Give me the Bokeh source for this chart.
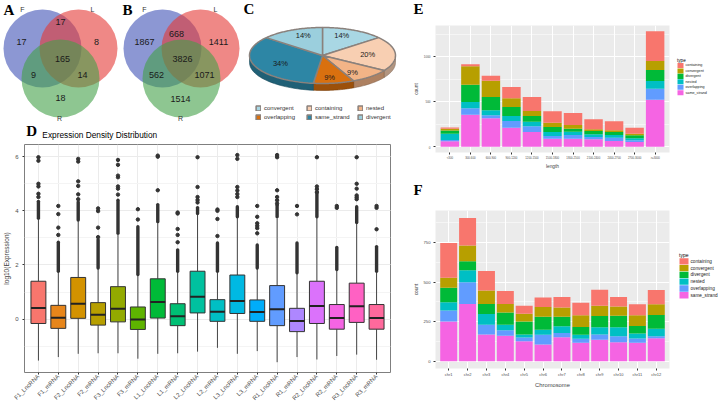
import numpy as np
from bokeh.plotting import figure
from bokeh.layouts import row, column
from bokeh.models import (Range1d, FactorRange, Legend, LegendItem,
                          ColumnDataSource, SingleIntervalTicker)
from bokeh.embed import file_html
from bokeh.resources import INLINE
from bokeh.core.properties import value

SANS = "Liberation Sans"
SERIF = "Liberation Serif"

# ---------------- data ----------------
venn_set_names = ["F", "L", "R"]
venn_regions = ["F_only", "F_L", "L_only", "F_L_R", "F_R", "L_R", "R_only"]
venn_a_counts = [17, 17, 8, 165, 9, 14, 18]
venn_b_counts = [1867, 668, 1411, 3826, 562, 1071, 1514]

pie_types = ["convergent", "containing", "nested", "overlapping", "same_strand", "divergent"]
pie_percent = [14, 20, 9, 9, 34, 14]

box_title = "Expression Density Distribution"
box_groups = ["F1_LncRNA", "F1_mRNA", "F2_LncRNA", "F2_mRNA", "F3_LncRNA", "F3_mRNA",
              "L1_LncRNA", "L1_mRNA", "L2_LncRNA", "L2_mRNA", "L3_LncRNA", "L3_mRNA",
              "R1_LncRNA", "R1_mRNA", "R2_LncRNA", "R2_mRNA", "R3_LncRNA", "R3_mRNA"]
box_whisker_lo = [-1.53, -1.40, -1.28, -1.26, -1.26, -1.46, -1.28, -1.26, -1.20, -1.06,
                  -1.28, -1.18, -1.59, -1.40, -1.49, -1.36, -1.31, -1.50]
box_q1 = [-0.16, -0.34, 0.03, -0.22, -0.10, -0.38, 0.04, -0.24, 0.23, -0.08,
          0.21, -0.08, -0.24, -0.46, -0.16, -0.37, -0.12, -0.37]
box_median = [0.41, 0.05, 0.57, 0.16, 0.38, -0.01, 0.63, 0.11, 0.83, 0.27,
              0.67, 0.26, 0.37, -0.07, 0.49, 0.04, 0.48, 0.04]
box_q3 = [1.40, 0.51, 1.54, 0.61, 1.20, 0.45, 1.49, 0.57, 1.77, 0.72,
          1.63, 0.71, 1.24, 0.40, 1.40, 0.54, 1.33, 0.54]
box_whisker_hi = [3.70, 1.75, 3.62, 1.86, 3.12, 1.62, 3.56, 1.74, 3.88, 1.74,
                  3.74, 1.86, 3.72, 1.68, 3.74, 1.80, 3.54, 1.74]
# dense runs of outliers (drawn as a solid run of dots)
box_dense_lo = [3.73, 1.77, 3.66, 1.89, 3.17, 1.65, 3.60, 1.77, 3.90, 1.77,
                3.78, 1.89, 3.78, 1.71, 3.78, 1.83, 3.57, 1.77]
box_dense_hi = [4.35, 2.84, 4.33, 2.93, 4.39, 3.41, 4.23, 2.56, 4.12, 2.81,
                4.15, 2.74, 4.21, 2.81, 4.63, 2.65, 4.15, 2.68]
box_outliers = [
    [4.51, 4.63, 4.90, 5.00, 5.85, 5.98],
    [3.11, 3.38, 3.88, 4.18],
    [4.43, 4.61, 4.92, 5.09, 5.82, 5.92],
    [3.03, 3.38, 3.99, 4.09],
    [4.60, 4.82, 4.90, 5.24, 5.30, 5.70, 5.88],
    [3.68, 4.06],
    [4.76, 6.00, 6.04],
    [2.84, 3.11, 3.33, 3.90, 3.94],
    [4.31, 4.40, 4.51, 4.88, 5.98],
    [3.07, 3.70, 4.00, 4.05],
    [4.51, 4.62, 4.75, 4.88, 5.92, 6.06],
    [3.17, 3.36, 3.45, 3.54, 3.78, 4.18],
    [4.27, 4.39, 4.51, 4.76, 5.98, 6.06],
    [3.87, 4.18],
    [4.69, 4.80, 4.90, 5.98],
    [4.11, 4.18],
    [4.43, 4.50, 4.57, 4.82, 5.00, 5.98],
    [3.32, 4.11, 4.18],
]

type_names = ["containing", "convergent", "divergent", "nested", "overlapping", "same_strand"]

length_bins = ["<300", "300-600", "600-900", "900-1200", "1200-1500", "1500-1800",
               "1800-2100", "2100-2400", "2400-2700", "2700-3000", ">=3000"]
len_same_strand = [60, 355, 315, 211, 163, 89, 89, 82, 63, 52, 522]
len_overlapping = [15, 71, 34, 74, 63, 30, 41, 26, 37, 19, 122]
len_nested = [70, 70, 55, 56, 52, 44, 37, 30, 30, 22, 85]
len_divergent = [35, 192, 148, 100, 63, 56, 33, 36, 33, 33, 122]
len_convergent = [20, 204, 181, 96, 55, 47, 41, 19, 19, 18, 100]
len_containing = [12, 23, 55, 126, 156, 127, 133, 111, 100, 67, 330]

chromosomes = ["chr1", "chr2", "chr3", "chr4", "chr5", "chr6",
               "chr7", "chr8", "chr9", "chr10", "chr11", "chr12"]
chr_same_strand = [252, 362, 169, 162, 127, 106, 152, 117, 136, 121, 117, 146]
chr_overlapping = [69, 136, 62, 34, 23, 61, 27, 25, 33, 37, 27, 12]
chr_nested = [52, 77, 67, 35, 19, 33, 42, 25, 46, 57, 31, 48]
chr_divergent = [91, 56, 64, 77, 83, 81, 60, 50, 71, 72, 48, 86]
chr_convergent = [63, 100, 84, 54, 48, 61, 59, 73, 64, 59, 67, 68]
chr_containing = [219, 173, 123, 82, 50, 60, 66, 79, 102, 60, 70, 90]

# ---------------- styles ----------------
venn_fill = ["#3F51B5", "#E53935", "#43A047"]
pie_colors = ["#A9D7E4", "#F8CFB2", "#F2B487", "#D9700F", "#2D86A5", "#9BCFDD"]
box_colors = ["#F8766D", "#E7861B", "#D39200", "#B79F00", "#93AA00", "#5EB300",
              "#00BA38", "#00BF74", "#00C19F", "#00BFC4", "#00B9E3", "#00ADFA",
              "#619CFF", "#AE87FF", "#DB72FB", "#F564E3", "#FF61C3", "#FF699C"]
type_colors = {"containing": "#F8766D", "convergent": "#B79F00", "divergent": "#00BA38",
               "nested": "#00BFC4", "overlapping": "#619CFF", "same_strand": "#F564E3"}


def bare_fig(x0, x1, y0, y1):
    """Axis-less figure whose data units are page pixels (y grows downward)."""
    p = figure(width=int(x1 - x0), height=int(y1 - y0), x_range=Range1d(x0, x1),
               y_range=Range1d(y1, y0), output_backend="svg", toolbar_location=None,
               min_border=0, x_axis_location=None, y_axis_location=None)
    p.grid.visible = False
    p.outline_line_color = None
    return p


def letter(p, txt, x, y):
    p.text(x=[x], y=[y], text=[txt], text_font=value(SERIF), text_font_style="bold",
           text_font_size="15px", text_baseline="top", text_align="left", text_color="black")


# ---------------- Venn diagrams ----------------
def venn(x0, x1, counts, centers, region_pos, set_pos, let, let_x):
    p = bare_fig(x0, x1, 0, 122)
    p.circle(x=[c[0] for c in centers], y=[c[1] for c in centers], radius=39,
             fill_color=venn_fill, fill_alpha=0.6, line_color=None)
    p.text(x=[q[0] for q in region_pos], y=[q[1] for q in region_pos],
           text=[str(v) for v in counts], text_align="center", text_baseline="middle",
           text_font=value(SANS), text_font_size="9px", text_color="#1a1a1a")
    p.text(x=[q[0] for q in set_pos], y=[q[1] for q in set_pos], text=venn_set_names,
           text_align="center", text_baseline="middle",
           text_font=value(SANS), text_font_size="7px", text_color="#333333")
    letter(p, let, let_x, 1.5)
    return p


va = venn(0, 120, venn_a_counts,
          [(42, 48), (78, 48), (60, 78)],
          [(21, 41), (60, 21), (96, 41), (62, 58), (33, 74), (82, 74), (60, 97)],
          [(22, 9), (92, 9), (59, 118)], "A", 3)
vb = venn(120, 242, venn_b_counts,
          [(162, 48), (200, 48), (181, 78)],
          [(144, 41), (176, 33), (218, 41), (182, 58), (156, 74), (204, 74), (180, 98)],
          [(144, 9), (215, 9), (180, 118)], "B", 122)

# ---------------- 3D pie ----------------
def darken(h, f=0.72):
    h = h.lstrip("#")
    r, g, b = (int(h[i:i + 2], 16) for i in (0, 2, 4))
    return "#%02x%02x%02x" % (int(r * f), int(g * f), int(b * f))


pc = bare_fig(242, 410, 0, 122)
cx, cy, rx, ry, dep = 322.0, 55.0, 73.0, 28.0, 7.0
cum = np.concatenate([[0.0], np.cumsum(pie_percent)]) / float(sum(pie_percent)) * 360.0
a_start = 90.0 - cum[:-1]
a_end = 90.0 - cum[1:]
for i in range(len(pie_types)):
    lo, hi = max(a_end[i], -180.0), min(a_start[i], 0.0)
    if hi > lo:
        t = np.radians(np.linspace(hi, lo, 40))
        ex = cx + rx * np.cos(t)
        ey = cy - ry * np.sin(t)
        pc.patch(np.concatenate([ex, ex[::-1]]), np.concatenate([ey, (ey + dep)[::-1]]),
                 fill_color=darken(pie_colors[i]), line_color=darken(pie_colors[i], 0.55),
                 line_width=0.6)
tops = []
for i in range(len(pie_types)):
    t = np.radians(np.linspace(a_start[i], a_end[i], 60))
    xs = np.concatenate([[cx], cx + rx * np.cos(t)])
    ys = np.concatenate([[cy], cy - ry * np.sin(t)])
    tops.append(pc.patch(xs, ys, fill_color=pie_colors[i], line_color="#8a817c", line_width=1.5))
mid = np.radians((a_start + a_end) / 2.0)
pc.text(x=cx + 0.62 * rx * np.cos(mid), y=cy - 0.8 * ry * np.sin(mid),
        text=["%d%%" % v for v in pie_percent], text_align="center", text_baseline="middle",
        text_font=value(SANS), text_font_size="7.5px", text_color="#1a1a1a")
pleg = Legend(items=[LegendItem(label=pie_types[i], renderers=[tops[i]]) for i in range(6)],
              orientation="horizontal", ncols=3, location=(13, 2),
              label_text_font=SANS, label_text_font_size="6px", label_text_color="#333333",
              glyph_width=6, glyph_height=6, label_height=7, label_width=40, label_standoff=3,
              spacing=2, padding=2, margin=0, border_line_color=None, background_fill_alpha=0)
pc.add_layout(pleg)
letter(pc, "C", 243, 0)

# ---------------- D boxplot ----------------
dstrip = bare_fig(0, 410, 122, 142)
letter(dstrip, "D", 2, 122.5)
dstrip.text(x=[20], y=[129.5], text=[box_title], text_font=value(SANS), text_font_size="8.3px",
            text_baseline="top", text_align="left", text_color="black")

d = figure(width=410, height=264, output_backend="svg", toolbar_location=None,
           x_range=FactorRange(factors=box_groups, range_padding=0.2, range_padding_units="absolute"),
           y_range=Range1d(-1.97, 6.45),
           min_border_left=20, min_border_right=20, min_border_top=2, min_border_bottom=32)
d.outline_line_color = "#7F7F7F"
d.xgrid.grid_line_color = "#EBEBEB"
d.ygrid.grid_line_color = "#EBEBEB"
d.ygrid.minor_grid_line_color = "#F4F4F4"
d.yaxis.ticker = SingleIntervalTicker(interval=2, num_minor_ticks=2)
for ax in (d.xaxis[0], d.yaxis[0]):
    ax.axis_line_color = None
    ax.major_tick_line_color = "#333333"
    ax.major_tick_out = 2
    ax.major_tick_in = 0
    ax.minor_tick_line_color = None
    ax.major_label_text_font = SANS
    ax.major_label_text_color = "#4D4D4D"
    ax.major_label_standoff = 2
d.xaxis.major_label_standoff = 1
d.xaxis.major_label_orientation = np.pi / 4
d.xaxis.major_label_text_font_size = "6px"
d.yaxis.major_label_text_font_size = "6px"
d.yaxis.axis_label = "log10(Expression)"
d.yaxis.axis_label_text_font = SANS
d.yaxis.axis_label_text_font_size = "6.5px"
d.yaxis.axis_label_text_font_style = "normal"
d.yaxis.axis_label_standoff = 2

bsrc = ColumnDataSource(dict(g=box_groups, lo=box_whisker_lo, q1=box_q1, med=box_median,
                             q3=box_q3, hi=box_whisker_hi, dlo=box_dense_lo, dhi=box_dense_hi,
                             col=box_colors))
d.segment(x0="g", y0="lo", x1="g", y1="q1", source=bsrc, line_color="#444444", line_width=1)
d.segment(x0="g", y0="q3", x1="g", y1="hi", source=bsrc, line_color="#444444", line_width=1)
d.segment(x0="g", y0="dlo", x1="g", y1="dhi", source=bsrc, line_color="#333333",
          line_width=3.4, line_cap="round")
ox, oy = [], []
for g, vals in zip(box_groups, box_outliers):
    ox += [g] * len(vals)
    oy += vals
d.scatter(x=ox, y=oy, size=3.4, color="#333333")
d.vbar(x="g", bottom="q1", top="q3", width=0.75, source=bsrc, fill_color="col",
       line_color="#333333", line_width=1)
d.rect(x="g", y="med", width=0.75, height=2, height_units="screen", source=bsrc,
       fill_color="#222222", line_color=None)


# ---------------- E / F stacked bars ----------------
stack_order = ["same_strand", "overlapping", "nested", "divergent", "convergent", "containing"]


def stacked(cats, cols, height, y0, y1, interval, top, bottom, xlabel,
            tick_fs, ytick_fs, lab_fs, xlab_fs):
    p = figure(width=261, height=height, output_backend="svg", toolbar_location=None,
               x_range=FactorRange(factors=cats, range_padding=0.2, range_padding_units="absolute"),
               y_range=Range1d(y0, y1),
               min_border_left=21, min_border_right=2, min_border_top=top, min_border_bottom=bottom)
    p.background_fill_color = "#EBEBEB"
    p.outline_line_color = None
    p.xgrid.grid_line_color = "white"
    p.ygrid.grid_line_color = "white"
    p.ygrid.minor_grid_line_color = "white"
    p.ygrid.minor_grid_line_width = 0.5
    p.yaxis.ticker = SingleIntervalTicker(interval=interval, num_minor_ticks=2)
    for ax in (p.xaxis[0], p.yaxis[0]):
        ax.axis_line_color = None
        ax.major_tick_line_color = "#333333"
        ax.major_tick_out = 2
        ax.major_tick_in = 0
        ax.minor_tick_line_color = None
        ax.major_label_text_font = SANS
        ax.major_label_text_color = "#4D4D4D"
        ax.major_label_standoff = 1
        ax.axis_label_text_font = SANS
        ax.axis_label_text_font_style = "normal"
        ax.axis_label_standoff = 2
    p.xaxis.major_label_text_font_size = tick_fs
    p.yaxis.major_label_text_font_size = ytick_fs
    p.xaxis.axis_label = xlabel
    p.xaxis.axis_label_text_font_size = xlab_fs
    p.yaxis.axis_label = "count"
    p.yaxis.axis_label_text_font_size = lab_fs
    data = dict(cat=cats)
    data.update(cols)
    p.vbar_stack(stack_order, x="cat", width=0.9, source=ColumnDataSource(data),
                 fill_color=[type_colors[s] for s in stack_order], line_color=None)
    return p


def legend_fig(y0, y1, title_y, first_y, step, sw_x, sw_w, sw_h, fs, title_fs):
    p = bare_fig(671, 719, y0, y1)
    p.text(x=[sw_x - 0.5], y=[title_y], text=["type"], text_font=value(SANS),
           text_font_size=title_fs, text_baseline="middle", text_align="left", text_color="black")
    ys = [first_y + step * i for i in range(len(type_names))]
    p.rect(x=[sw_x + sw_w / 2.0] * len(type_names), y=ys, width=sw_w, height=sw_h,
           fill_color=[type_colors[t] for t in type_names], line_color=None)
    p.text(x=[sw_x + sw_w + 2] * len(type_names), y=ys, text=type_names, text_font=value(SANS),
           text_font_size=fs, text_baseline="middle", text_align="left", text_color="#1a1a1a")
    return p


estrip = bare_fig(410, 719, 0, 22)
letter(estrip, "E", 413, 0)
e = stacked(length_bins,
            dict(same_strand=len_same_strand, overlapping=len_overlapping, nested=len_nested,
                 divergent=len_divergent, convergent=len_convergent, containing=len_containing),
            161, -64, 1345, 500, 3, 31, "length", "2.8px", "3px", "4.8px", "4.8px")
eleg = legend_fig(22, 183, 66.7, 72.7, 6.9, 677, 6, 6.4, "3.7px", "4.6px")

fstrip = bare_fig(410, 719, 183, 207)
letter(fstrip, "F", 413, 181.5)
f = stacked(chromosomes,
            dict(same_strand=chr_same_strand, overlapping=chr_overlapping, nested=chr_nested,
                 divergent=chr_divergent, convergent=chr_convergent, containing=chr_containing),
            199, -45, 951, 250, 3, 38, "Chromosome", "4px", "4.2px", "4.8px", "5.8px")
fleg = legend_fig(207, 406, 263, 271, 8.55, 679, 9, 8, "4.7px", "5px")

left = column(row(va, vb, pc), dstrip, d)
right = column(estrip, row(e, eleg), fstrip, row(f, fleg))
layout = row(left, right)

with open("out.html", "w") as fh:
    fh.write(file_html(layout, INLINE))
